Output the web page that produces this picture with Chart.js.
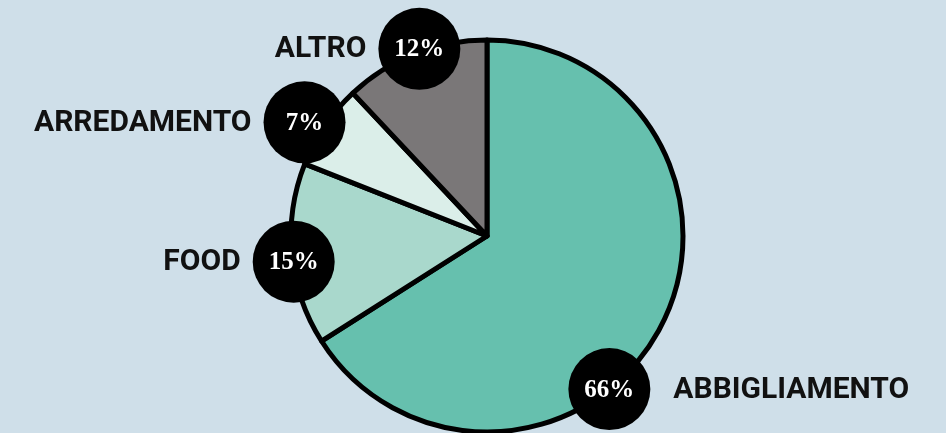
<!DOCTYPE html>
<html>
<head>
<meta charset="utf-8">
<script src="https://cdn.jsdelivr.net/npm/chart.js@4/dist/chart.umd.min.js"></script>
<style>
  html,body{margin:0;padding:0;background:#cfdfe9;}
  #wrap{width:946px;height:433px;}
</style>
</head>
<body>
<div id="wrap"><canvas id="pie" width="946" height="433"></canvas></div>
<script>
const categories = ['ABBIGLIAMENTO', 'FOOD', 'ARREDAMENTO', 'ALTRO'];
const shares = [66, 15, 7, 12];
const sliceColors = ['#66c0ae', '#a9d8cc', '#dbeee9', '#7a7778'];

// where each bubble sits: fraction along the slice, distance from centre
const bubbleSpots = [
  {frac:0.595, dist:196, side:'right'},
  {frac:0.46, dist:195, side:'left'},
  {frac:0.41, dist:215, side:'left'},
  {frac:0.54, dist:199, side:'left'}
];

const bubbles = {
  id:'bubbles',
  afterDatasetsDraw(chart){
    const ctx = chart.ctx;
    const meta = chart.getDatasetMeta(0);
    meta.data.forEach((arc,i)=>{
      const s = bubbleSpots[i];
      const a = arc.startAngle + (arc.endAngle - arc.startAngle)*s.frac;
      const x = arc.x + Math.cos(a)*s.dist;
      const y = arc.y + Math.sin(a)*s.dist;
      const r = 41;
      ctx.save();
      ctx.beginPath();
      ctx.arc(x, y, r, 0, Math.PI*2);
      ctx.fillStyle = '#000';
      ctx.fill();
      ctx.fillStyle = '#fff';
      ctx.font = 'bold 25px "Liberation Serif", "DejaVu Serif", serif';
      ctx.textAlign = 'center';
      ctx.textBaseline = 'middle';
      ctx.fillText(shares[i] + '%', x, y + 1);
      ctx.fillStyle = '#111';
      ctx.font = 'bold 30px Roboto, "Noto Sans", sans-serif';
      if (s.side === 'left') {
        ctx.textAlign = 'right';
        ctx.fillText(categories[i], x - r - 12, y + 1);
      } else {
        ctx.textAlign = 'left';
        ctx.fillText(categories[i], x + r + 23, y + 1);
      }
      ctx.restore();
    });
  }
};

new Chart(document.getElementById('pie'), {
  type:'pie',
  data:{
    labels:categories,
    datasets:[{
      data:shares,
      backgroundColor:sliceColors,
      borderColor:'#000',
      borderWidth:5,
      borderJoinStyle:'round'
    }]
  },
  options:{
    responsive:false,
    animation:false,
    radius:196,
    layout:{padding:{left:28, right:0, top:39, bottom:0}},
    plugins:{legend:{display:false}, tooltip:{enabled:false}}
  },
  plugins:[bubbles]
});
</script>
</body>
</html>
